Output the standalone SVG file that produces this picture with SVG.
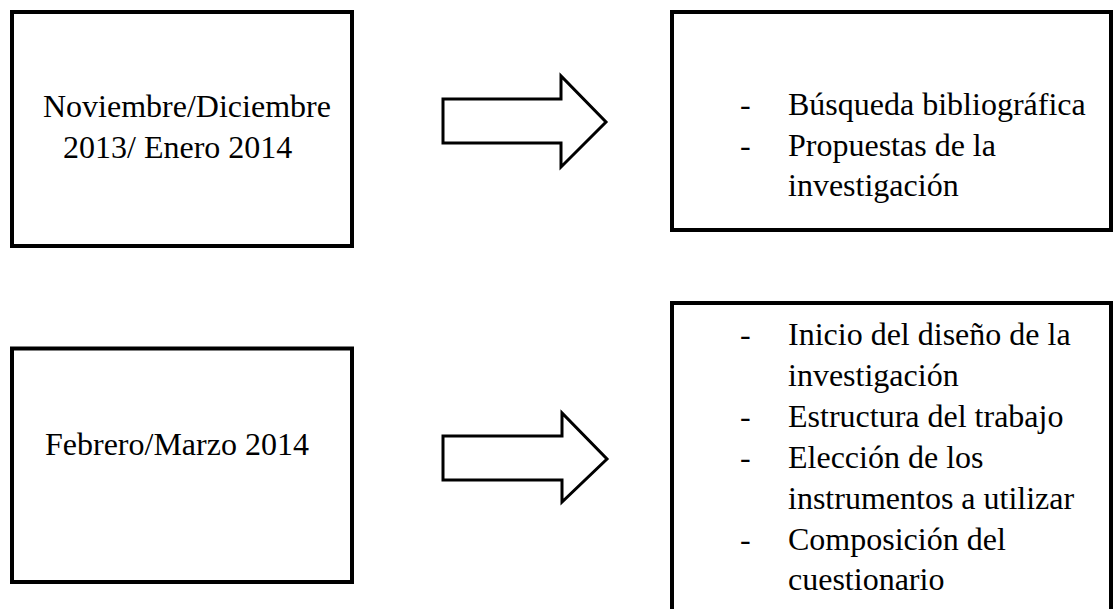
<svg xmlns="http://www.w3.org/2000/svg" width="1114" height="609" viewBox="0 0 1114 609">
<style>
.box{fill:#fff;stroke:#000;stroke-width:4}
.arr{fill:#fff;stroke:#000;stroke-width:3;stroke-linejoin:miter}
text{font-family:"Liberation Serif","Times New Roman",serif;font-size:32px;fill:#000}
</style>
<rect width="1114" height="609" fill="#fff"/>
<g id="connectors">
<polygon class="arr" points="443,99 561,99 561,76 606,122 561,167 561,143 443,143"/>
<polygon class="arr" points="443,436 562,436 562,413 607,459 562,502 562,480 443,480"/>
</g>
<g id="n1">
<rect class="box" x="12" y="12" width="340" height="234"/>
<text x="43" y="117">Noviembre/Diciembre</text>
<text x="63" y="158">2013/ Enero 2014</text>
</g>
<g id="n2">
<rect class="box" x="12" y="348.5" width="340" height="233.5"/>
<text x="45" y="455">Febrero/Marzo 2014</text>
</g>
<g id="n3">
<rect class="box" x="672" y="12" width="439" height="218"/>
<text x="740" y="115">-</text><text x="788" y="115">Búsqueda bibliográfica</text>
<text x="740" y="156">-</text><text x="788" y="156">Propuestas de la</text>
<text x="788" y="196">investigación</text>
</g>
<g id="n4">
<rect class="box" x="672" y="303" width="439" height="320"/>
<text x="740" y="345">-</text><text x="788" y="345">Inicio del diseño de la</text>
<text x="788" y="386">investigación</text>
<text x="740" y="427">-</text><text x="788" y="427">Estructura del trabajo</text>
<text x="740" y="468">-</text><text x="788" y="468">Elección de los</text>
<text x="788" y="509">instrumentos a utilizar</text>
<text x="740" y="550">-</text><text x="788" y="550">Composición del</text>
<text x="788" y="590">cuestionario</text>
</g>
</svg>
